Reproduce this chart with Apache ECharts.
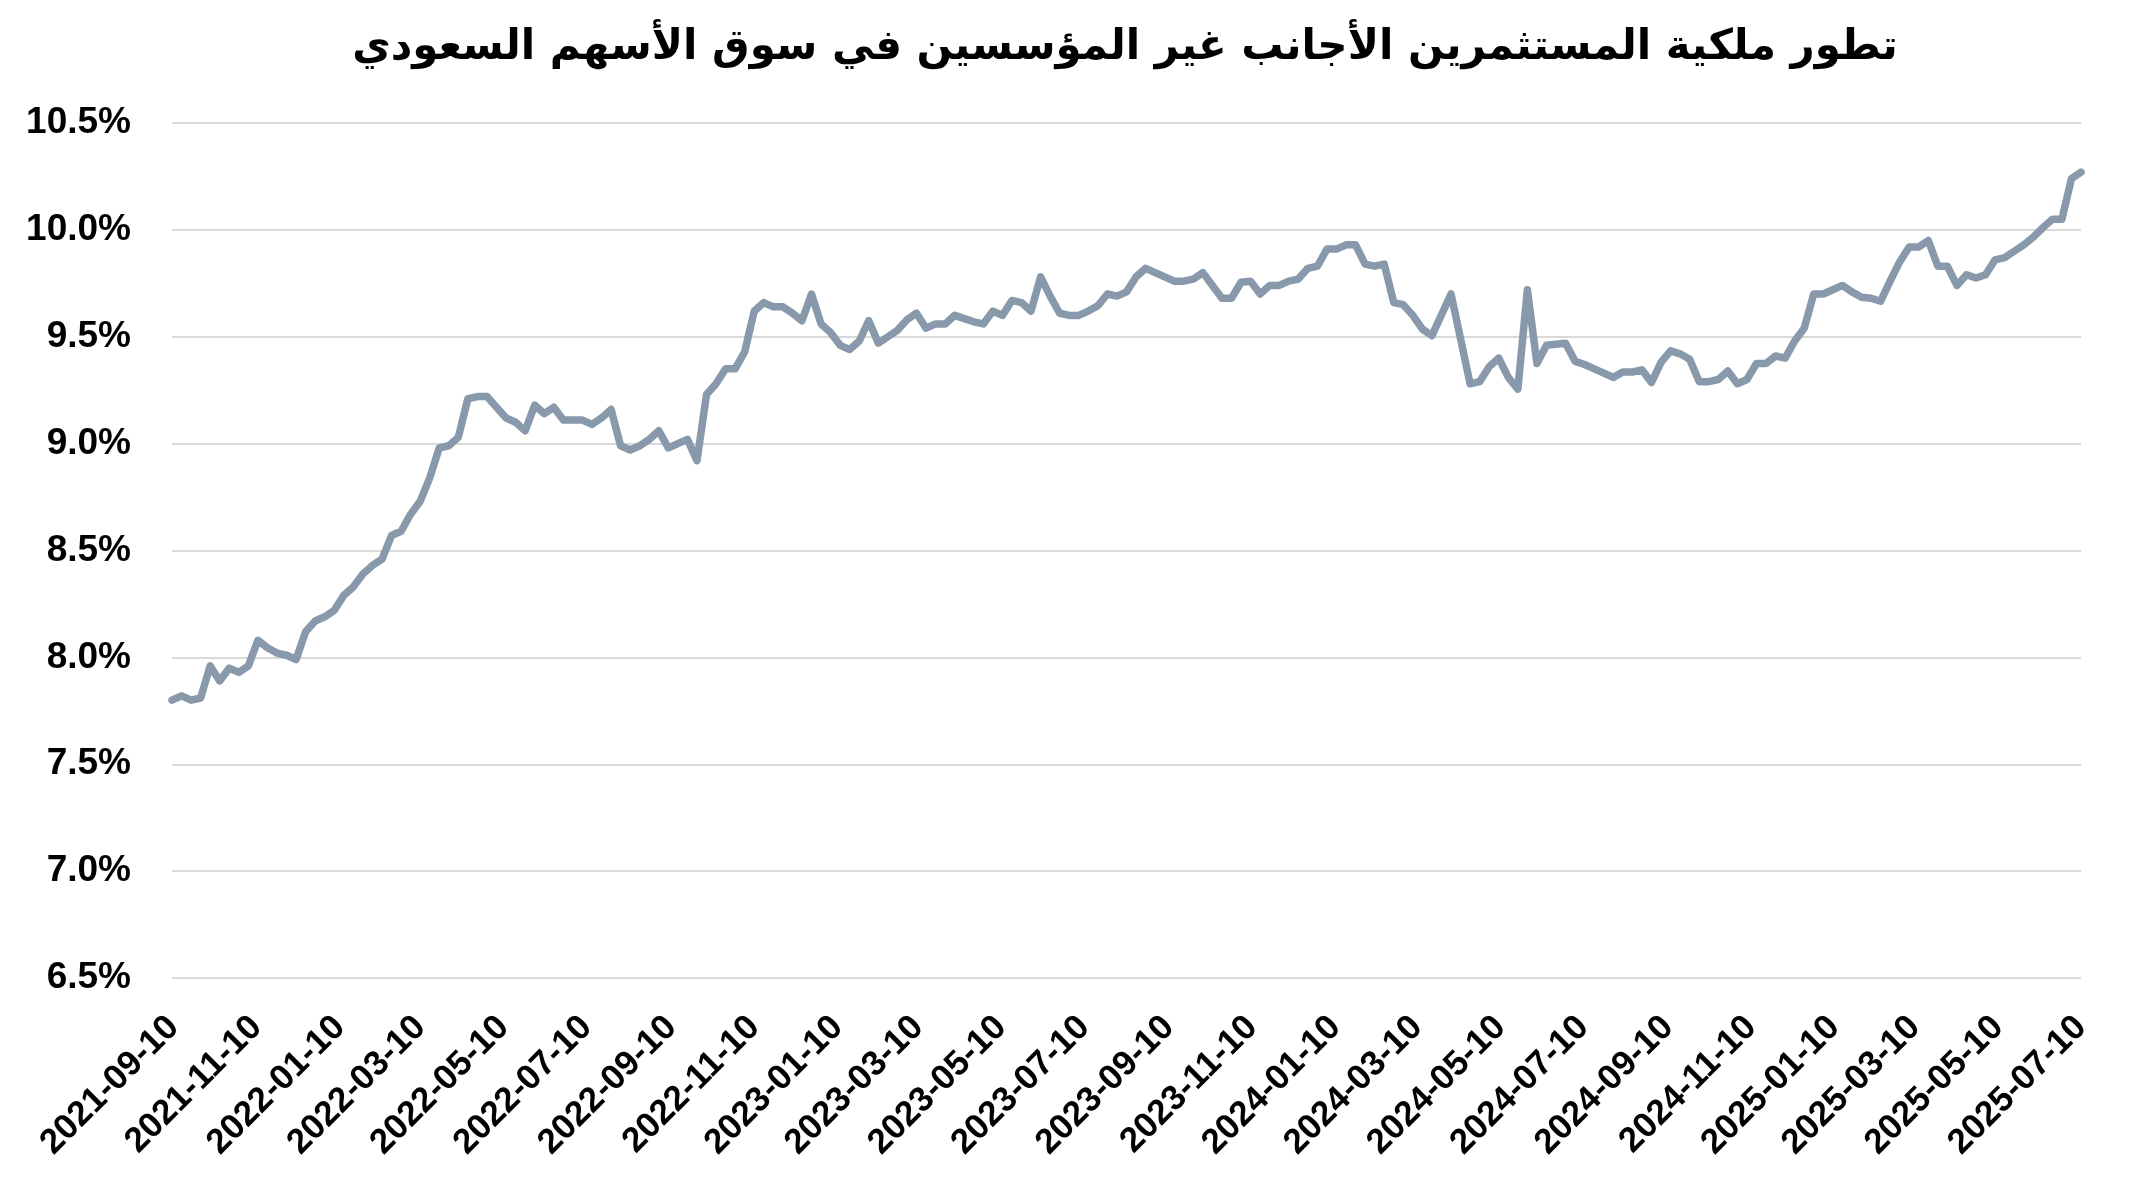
<!DOCTYPE html>
<html>
<head>
<meta charset="utf-8">
<script src="https://cdn.jsdelivr.net/npm/echarts@6/dist/echarts.min.js"></script>
<style>
html,body{margin:0;padding:0;background:#fff;}
#c{width:2145px;height:1191px;}
</style>
</head>
<body>
<div id="c"></div>
<script>
// ---- data ----
const titleText = 'تطور ملكية المستثمرين الأجانب غير المؤسسين في سوق الأسهم السعودي';
const axisStart = '2021-09-09';
const axisEnd = '2025-07-10';
const weekStep = 7; // weekly observations
const ownership = [
  7.80, 7.82, 7.80, 7.81, 7.96, 7.89, 7.95, 7.93, 7.96, 8.08,
  8.045, 8.02, 8.01, 7.99, 8.12, 8.17, 8.19, 8.22, 8.29, 8.33,
  8.39, 8.43, 8.46, 8.57, 8.59, 8.67, 8.73, 8.84, 8.98, 8.99,
  9.03, 9.21, 9.22, 9.22, 9.17, 9.12, 9.10, 9.06, 9.18, 9.14,
  9.17, 9.11, 9.11, 9.11, 9.09, 9.12, 9.16, 8.99, 8.97, 8.99,
  9.02, 9.06, 8.98, 9.00, 9.02, 8.92, 9.23, 9.28, 9.35, 9.35,
  9.43, 9.62, 9.66, 9.64, 9.64, 9.61, 9.575, 9.70, 9.56, 9.52,
  9.46, 9.44, 9.48, 9.575, 9.47, 9.50, 9.53, 9.58, 9.61, 9.54,
  9.56, 9.56, 9.60, 9.585, 9.57, 9.56, 9.62, 9.60, 9.67, 9.66,
  9.62, 9.78, 9.69, 9.61, 9.60, 9.60, 9.62, 9.645, 9.70, 9.69,
  9.71, 9.78, 9.82, 9.80, 9.78, 9.76, 9.76, 9.77, 9.80, 9.74,
  9.68, 9.68, 9.755, 9.76, 9.70, 9.74, 9.74, 9.76, 9.77, 9.82,
  9.83, 9.91, 9.91, 9.93, 9.93, 9.84, 9.83, 9.84, 9.66, 9.65,
  9.60, 9.536, 9.505, null, 9.70, null, 9.28, 9.29, 9.36, 9.40,
  9.31, 9.255, 9.72, 9.375, 9.46, 9.465, 9.47, 9.385, 9.37, 9.35,
  9.33, 9.31, 9.335, 9.335, 9.345, 9.286, 9.38, 9.434, 9.42, 9.395,
  9.29, 9.29, 9.30, 9.34, 9.28, 9.30, 9.375, 9.375, 9.41, 9.40,
  9.48, 9.54, 9.70, 9.70, 9.72, 9.74, 9.71, 9.685, 9.68, 9.666,
  9.76, 9.85, 9.92, 9.92, 9.95, 9.83, 9.83, 9.74, 9.79, 9.775,
  9.79, 9.86, 9.87, 9.90, 9.93, 9.966, 10.01, 10.05, 10.05, 10.24,
  10.27
];
const yMin = 6.5, yMax = 10.5, yStep = 0.5;

// ---- build daily category list ----
function fmt(d){
  const m = d.getUTCMonth()+1, day = d.getUTCDate();
  return d.getUTCFullYear()+'-'+(m<10?'0':'')+m+'-'+(day<10?'0':'')+day;
}
const days = [];
for (let t = Date.parse(axisStart+'T00:00:00Z'); t <= Date.parse(axisEnd+'T00:00:00Z'); t += 86400000) {
  days.push(fmt(new Date(t)));
}
const seriesData = ownership.map((v, i) => [i * weekStep, v]);

function showLabel(idx, val){
  return val.slice(8) === '10' && (parseInt(val.slice(5,7),10) % 2 === 1);
}

const chart = echarts.init(document.getElementById('c'), null, {renderer:'canvas'});
chart.setOption({
  animation: false,
  backgroundColor: '#ffffff',
  title: {
    text: titleText,
    left: 1120, top: 22, textAlign: 'center',
    textStyle: {fontFamily: '"DejaVu Sans", sans-serif', fontWeight: 'bold', fontSize: 42, color: '#000'}
  },
  grid: {left: 172, right: 64, top: 123, bottom: 213, containLabel: false},
  xAxis: {
    type: 'category',
    data: days,
    boundaryGap: false,
    axisLine: {show: false},
    axisTick: {show: false},
    splitLine: {show: false},
    axisLabel: {
      interval: showLabel,
      rotate: 45,
      margin: 44,
      fontFamily: '"Liberation Sans", Arial, sans-serif',
      fontWeight: 'bold',
      fontSize: 35,
      color: '#000'
    }
  },
  yAxis: {
    type: 'value',
    min: yMin, max: yMax, interval: yStep,
    axisLine: {show: false},
    axisTick: {show: false},
    splitLine: {lineStyle: {color: '#d9d9d9', width: 2}},
    axisLabel: {
      formatter: v => v.toFixed(1) + '%',
      margin: 41,
      fontFamily: '"Liberation Sans", Arial, sans-serif',
      fontWeight: 'bold',
      fontSize: 37,
      color: '#000'
    }
  },
  series: [{
    type: 'line',
    data: seriesData,
    connectNulls: true,
    showSymbol: false,
    symbol: 'none',
    lineStyle: {color: '#8799aa', width: 7.5, join: 'round', cap: 'round'},
    z: 3
  }]
});
</script>
</body>
</html>
